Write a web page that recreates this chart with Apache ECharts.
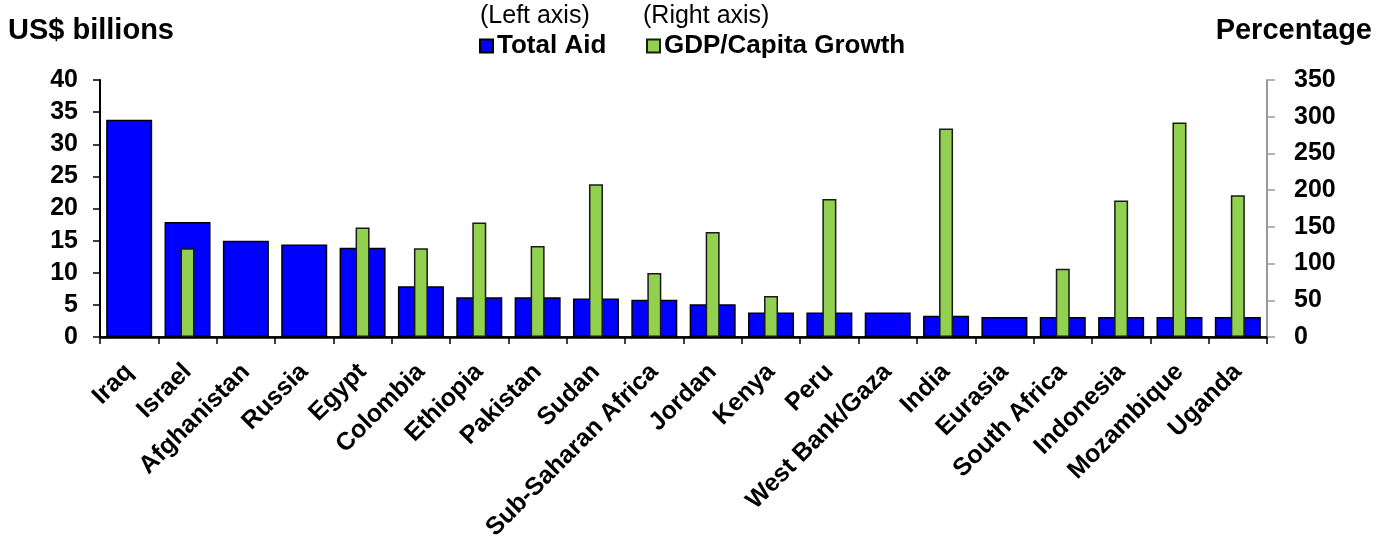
<!DOCTYPE html>
<html>
<head>
<meta charset="utf-8">
<script src="https://cdn.jsdelivr.net/npm/echarts@6/dist/echarts.min.js"></script>
<style>
  html, body { margin: 0; padding: 0; background: #fff; }
  #chart { width: 1386px; height: 544px; }
</style>
</head>
<body>
<div id="chart"></div>
<script>
// Recipients of aid and their per-capita growth
const countries = ['Iraq', 'Israel', 'Afghanistan', 'Russia', 'Egypt', 'Colombia', 'Ethiopia',
  'Pakistan', 'Sudan', 'Sub-Saharan Africa', 'Jordan', 'Kenya', 'Peru', 'West Bank/Gaza',
  'India', 'Eurasia', 'South Africa', 'Indonesia', 'Mozambique', 'Uganda'];

// Total aid, US$ billions (left axis)
const totalAid = [33.8, 17.9, 15.0, 14.4, 13.9, 7.9, 6.2, 6.2, 6.0, 5.8,
  5.1, 3.8, 3.8, 3.8, 3.3, 3.1, 3.1, 3.1, 3.1, 3.1];

// GDP per capita growth, percent (right axis)
const gdpGrowth = [null, 121, null, null, 149, 121, 156, 124, 208, 87,
  143, 56, 188, null, 284, null, 93, 186, 292, 193];

const leftTicks = { min: 0, max: 40, interval: 5 };
const rightTicks = { min: 0, max: 350, interval: 50 };

const FONT = '"Liberation Sans", Arial, Helvetica, sans-serif';

const chart = echarts.init(document.getElementById('chart'));

chart.setOption({
  animation: false,
  backgroundColor: '#ffffff',
  textStyle: { fontFamily: FONT },
  grid: { left: 100, right: 119, top: 80, bottom: 207, containLabel: false },
  graphic: [
    { type: 'text', left: 8, top: 16,
      style: { text: 'US$ billions', font: 'bold 29px ' + FONT, fill: '#000' } },
    { type: 'text', right: 14, top: 16,
      style: { text: 'Percentage', font: 'bold 29px ' + FONT, fill: '#000' } },
    { type: 'text', left: 480, top: 4,
      style: { text: '(Left axis)', font: '25px ' + FONT, fill: '#000' } },
    { type: 'text', left: 643, top: 4,
      style: { text: '(Right axis)', font: '25px ' + FONT, fill: '#000' } }
  ],
  legend: [
    { data: ['Total Aid'], left: 479, top: 33, icon: 'rect', itemWidth: 13, itemHeight: 13,
      itemGap: 0, padding: 0,
      textStyle: { fontSize: 26, fontWeight: 'bold', color: '#000', fontFamily: FONT, padding: [0, 0, 0, -1] } },
    { data: ['GDP/Capita Growth'], left: 646, top: 33, icon: 'rect', itemWidth: 13, itemHeight: 13,
      itemGap: 0, padding: 0,
      textStyle: { fontSize: 26, fontWeight: 'bold', color: '#000', fontFamily: FONT, padding: [0, 0, 0, -1] } }
  ],
  xAxis: [
    {
      type: 'category', data: countries, position: 'bottom',
      axisLine: { show: true, lineStyle: { color: '#000', width: 2.5 } },
      axisTick: { show: true, inside: false, length: 7, lineStyle: { color: '#000', width: 1.5 } },
      axisLabel: { rotate: 45, margin: 31, fontSize: 25, fontWeight: 'bold',
        color: '#000', fontFamily: FONT, interval: 0 },
      splitLine: { show: false }
    },
    {
      type: 'category', data: countries, position: 'top',
      axisLine: { show: true, lineStyle: { color: '#000', width: 1.5 } },
      axisTick: { show: false }, axisLabel: { show: false }, splitLine: { show: false }
    }
  ],
  yAxis: [
    {
      type: 'value', position: 'left',
      min: leftTicks.min, max: leftTicks.max, interval: leftTicks.interval,
      axisLine: { show: true, lineStyle: { color: '#000', width: 2 } },
      axisTick: { show: true, inside: false, length: 7, lineStyle: { color: '#000', width: 1.5 } },
      axisLabel: { margin: 22, fontSize: 25, fontWeight: 'bold', color: '#000', fontFamily: FONT },
      splitLine: { show: false }
    },
    {
      type: 'value', position: 'right',
      min: rightTicks.min, max: rightTicks.max, interval: rightTicks.interval,
      axisLine: { show: true, lineStyle: { color: '#9a9a9a', width: 2 } },
      axisTick: { show: true, inside: false, length: 8, lineStyle: { color: '#9a9a9a', width: 1.5 } },
      axisLabel: { margin: 27, fontSize: 25, fontWeight: 'bold', color: '#000', fontFamily: FONT },
      splitLine: { show: false }
    }
  ],
  series: [
    {
      name: 'Total Aid', type: 'bar', xAxisIndex: 0, yAxisIndex: 0,
      data: totalAid, barWidth: 46,
      itemStyle: { color: '#0000ff', borderColor: '#000', borderWidth: 1.5 }
    },
    {
      name: 'GDP/Capita Growth', type: 'bar', xAxisIndex: 1, yAxisIndex: 1,
      data: gdpGrowth, barWidth: 14,
      itemStyle: { color: '#92d050', borderColor: '#1a1a1a', borderWidth: 1.5 }
    }
  ]
});
</script>
</body>
</html>
